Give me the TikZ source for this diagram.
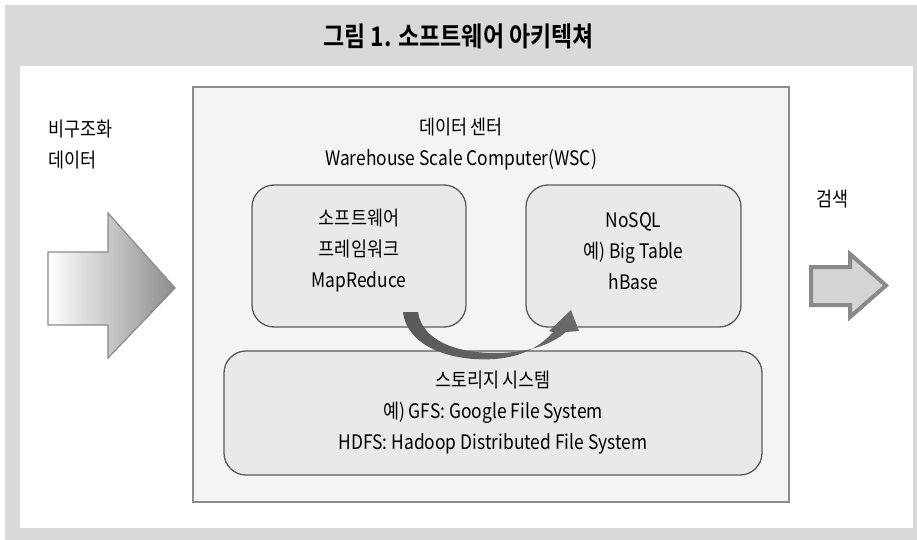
\documentclass[tikz,border=0pt]{standalone}
\usepackage{fontspec}
\setmainfont{Noto Sans CJK KR}[FakeStretch=0.87]
\newfontfamily\titlefont{Noto Sans CJK KR Bold}[FakeStretch=0.85]
\definecolor{outergray}{HTML}{D9D9D9}
\definecolor{dcfill}{HTML}{F4F4F4}
\definecolor{dcborder}{HTML}{8C8C8C}
\definecolor{boxfill}{HTML}{E9E9E9}
\definecolor{boxborder}{HTML}{5A5A5A}
\definecolor{arrowgray}{HTML}{8A8A8A}
\definecolor{curvedark}{HTML}{595959}
\definecolor{curvemid}{HTML}{8A8A8A}
\definecolor{curveend}{HTML}{6A6A6A}
\tikzset{
  txt/.style={font=\fontsize{20}{31}\selectfont, align=center, inner sep=0pt, text=black},
  ltxt/.style={font=\fontsize{20}{31}\selectfont, align=left, inner sep=0pt, anchor=north west, text=black},
  rbox/.style={draw=boxborder, fill=boxfill, line width=1.3pt, rounded corners=22pt, inner sep=0pt},
}
\begin{document}
\begin{tikzpicture}[x=1pt,y=-1pt]
\useasboundingbox (0,0) rectangle (917,540);
% background frame
\fill[white] (0,0) rectangle (917,540);
\fill[outergray] (5,5) rectangle (917,540);
\fill[white] (20,66) rectangle (913,528);
\node[font=\titlefont\fontsize{27}{30}\selectfont, inner sep=0pt] (title) at (458.5,36) {그림 1. 소프트웨어 아키텍쳐};
% data center box
\node[draw=dcborder, fill=dcfill, line width=1.5pt, minimum width=596pt, minimum height=415pt, inner sep=0pt] (dc) at (491,294.5) {};
\node[txt] (dctext) at (461,144) {데이터 센터\\Warehouse Scale Computer(WSC)};
% inner boxes
\node[rbox, minimum width=214pt, minimum height=142pt] (sw) at (359,256) {};
\node[txt] (swtext) at (359,251) {소프트웨어\\프레임워크\\MapReduce};
\node[rbox, minimum width=215pt, minimum height=142pt] (nosql) at (633.5,256) {};
\node[txt] (nosqltext) at (633.5,251) {NoSQL\\예) Big Table\\hBase};
\node[rbox, minimum width=538pt, minimum height=124pt] (storage) at (493,413) {};
\node[txt] (storagetext) at (493,413) {스토리지 시스템\\예) GFS: Google File System\\HDFS: Hadoop Distributed File System};
% curved arrow from MapReduce to NoSQL (tapered band with head)
\shade[left color=curvedark, middle color=curvemid, right color=curveend]
  (403,312) .. controls (407,346) and (450,362) .. (495,359)
  .. controls (522,357) and (541,346) .. (553,332)
  -- (549,331) -- (571,310) -- (579,331) -- (566,332)
  .. controls (550,346) and (525,353) .. (495,353)
  .. controls (455,353) and (422,340) .. (418,312) -- cycle;
% left input arrow
\node[ltxt] (intext) at (48,120) {비구조화\\데이터};
\coordinate (la1) at (48,252);
\coordinate (la2) at (108,252);
\coordinate (la3) at (108,213);
\coordinate (la4) at (175,288);
\coordinate (la5) at (108,358);
\coordinate (la6) at (108,325);
\coordinate (la7) at (48,325);
\shade[left color=white, right color=black!45] (la1) -- (la2) -- (la3) -- (la4) -- (la5) -- (la6) -- (la7) -- cycle;
\draw[arrowgray, line width=1.2pt, line join=miter] (la1) -- (la2) -- (la3) -- (la4) -- (la5) -- (la6) -- (la7) -- cycle;
% right output arrow
\node[ltxt] (outtext) at (816,190) {검색};
\coordinate (ra1) at (811,267);
\coordinate (ra2) at (850,267);
\coordinate (ra3) at (850,254);
\coordinate (ra4) at (886,285.5);
\coordinate (ra5) at (850,317);
\coordinate (ra6) at (850,305);
\coordinate (ra7) at (811,305);
\draw[arrowgray, fill=black!17, line width=4pt, line join=miter] (ra1) -- (ra2) -- (ra3) -- (ra4) -- (ra5) -- (ra6) -- (ra7) -- cycle;
\end{tikzpicture}
\end{document}
